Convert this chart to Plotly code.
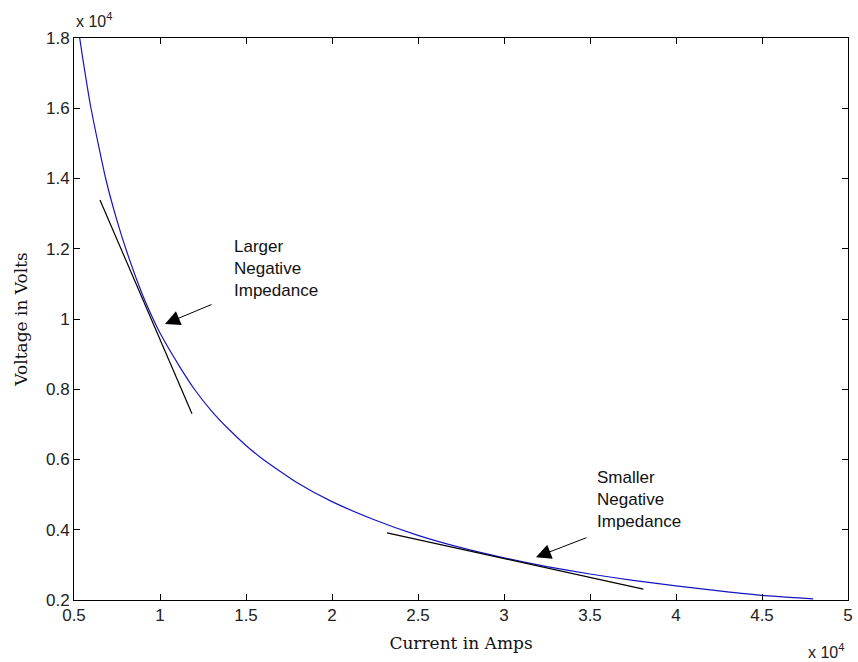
import plotly.graph_objects as go

# Voltage-current characteristic (values in amps / volts)
current_amps = [5300, 5500, 5950, 6500, 6840, 7500, 8080, 9000, 9650, 10000, 11160,
                12000, 13000, 14000, 15000, 16000, 18000, 20000, 22380, 25000, 27500,
                30000, 32500, 35000, 37500, 40000, 42500, 45000, 47970]
voltage_volts = [18100, 17450, 16100, 14770, 14000, 12800, 11900, 10670, 9950, 9600, 8630,
                 8000, 7380, 6860, 6400, 6000, 5330, 4800, 4300, 3840, 3490,
                 3200, 2950, 2740, 2560, 2400, 2260, 2130, 2030]

# Tangent segments showing the local slope (negative impedance)
tangent_large_i = [6510, 11860]
tangent_large_v = [13390, 7300]
tangent_small_i = [23200, 38100]
tangent_small_v = [3910, 2310]

# Callouts: (text, text anchor I, text anchor V, arrow head I, V, arrow tail I, V)
callouts = [
    ("Larger<br>Negative<br>Impedance", 14190, 11450, 10290, 9860, 13080, 10430),
    ("Smaller<br>Negative<br>Impedance", 35290, 4850, 31860, 3220, 34880, 3790),
]

x_ticks = [5000, 10000, 15000, 20000, 25000, 30000, 35000, 40000, 45000, 50000]
x_tick_text = ["0.5", "1", "1.5", "2", "2.5", "3", "3.5", "4", "4.5", "5"]
y_ticks = [2000, 4000, 6000, 8000, 10000, 12000, 14000, 16000, 18000]
y_tick_text = ["0.2", "0.4", "0.6", "0.8", "1", "1.2", "1.4", "1.6", "1.8"]

W, H = 858, 662
L, R, T, B = 74, 10, 38, 62

fig = go.Figure()
fig.add_trace(go.Scatter(x=current_amps, y=voltage_volts, mode="lines",
                         line=dict(color="#1515c0", width=1.2, shape="spline", smoothing=0.5),
                         hoverinfo="skip"))
fig.add_trace(go.Scatter(x=tangent_large_i, y=tangent_large_v, mode="lines",
                         line=dict(color="black", width=1.2), hoverinfo="skip"))
fig.add_trace(go.Scatter(x=tangent_small_i, y=tangent_small_v, mode="lines",
                         line=dict(color="black", width=1.2), hoverinfo="skip"))

annotations = []
for text, tx, ty, hx, hy, ax, ay in callouts:
    annotations.append(dict(x=tx, y=ty, xref="x", yref="y", text=text, showarrow=False,
                            xanchor="left", yanchor="middle", align="left",
                            font=dict(family="Liberation Sans, Arial", size=17, color="#111")))
    annotations.append(dict(x=hx, y=hy, ax=ax, ay=ay, xref="x", yref="y", axref="x", ayref="y",
                            text="", showarrow=True, arrowhead=2, arrowsize=3,
                            arrowwidth=1, arrowcolor="black"))


def px_to_paper(px, py):
    return (px - L) / (W - L - R), (H - B - py) / (H - T - B)


# Exponent markers for both axes
ex, ey = px_to_paper(74, 20)
annotations.append(dict(x=ex, y=ey, xref="paper", yref="paper", text="x 10<sup>4</sup>",
                        showarrow=False, xanchor="left", yanchor="middle",
                        font=dict(family="Liberation Sans, Arial", size=16, color="#222")))
ex, ey = px_to_paper(806, 651)
annotations.append(dict(x=ex, y=ey, xref="paper", yref="paper", text="x 10<sup>4</sup>",
                        showarrow=False, xanchor="left", yanchor="middle",
                        font=dict(family="Liberation Sans, Arial", size=16, color="#222")))

fig.update_layout(
    width=W, height=H,
    margin=dict(l=L, r=R, t=T, b=B),
    paper_bgcolor="white", plot_bgcolor="white",
    showlegend=False,
    annotations=annotations,
)

axis_font = dict(family="Liberation Sans, Arial", size=17, color="#222")
fig.update_xaxes(range=[5000, 50000], tickvals=x_ticks, ticktext=x_tick_text,
                 ticks="inside", ticklen=6, tickcolor="black", mirror="ticks",
                 showline=True, linecolor="black", linewidth=1, showgrid=False, zeroline=False,
                 tickfont=axis_font, automargin=False,
                 title=dict(text="Current in Amps", standoff=12,
                            font=dict(family="DejaVu Serif", size=17, color="#111")))
fig.update_yaxes(range=[2000, 18000], tickvals=y_ticks, ticktext=y_tick_text,
                 ticks="inside", ticklen=6, tickcolor="black", mirror="ticks",
                 showline=True, linecolor="black", linewidth=1, showgrid=False, zeroline=False,
                 tickfont=axis_font, automargin=False,
                 title=dict(text="Voltage in Volts", standoff=14,
                            font=dict(family="DejaVu Serif", size=17, color="#111")))

fig.write_html("out.html")
